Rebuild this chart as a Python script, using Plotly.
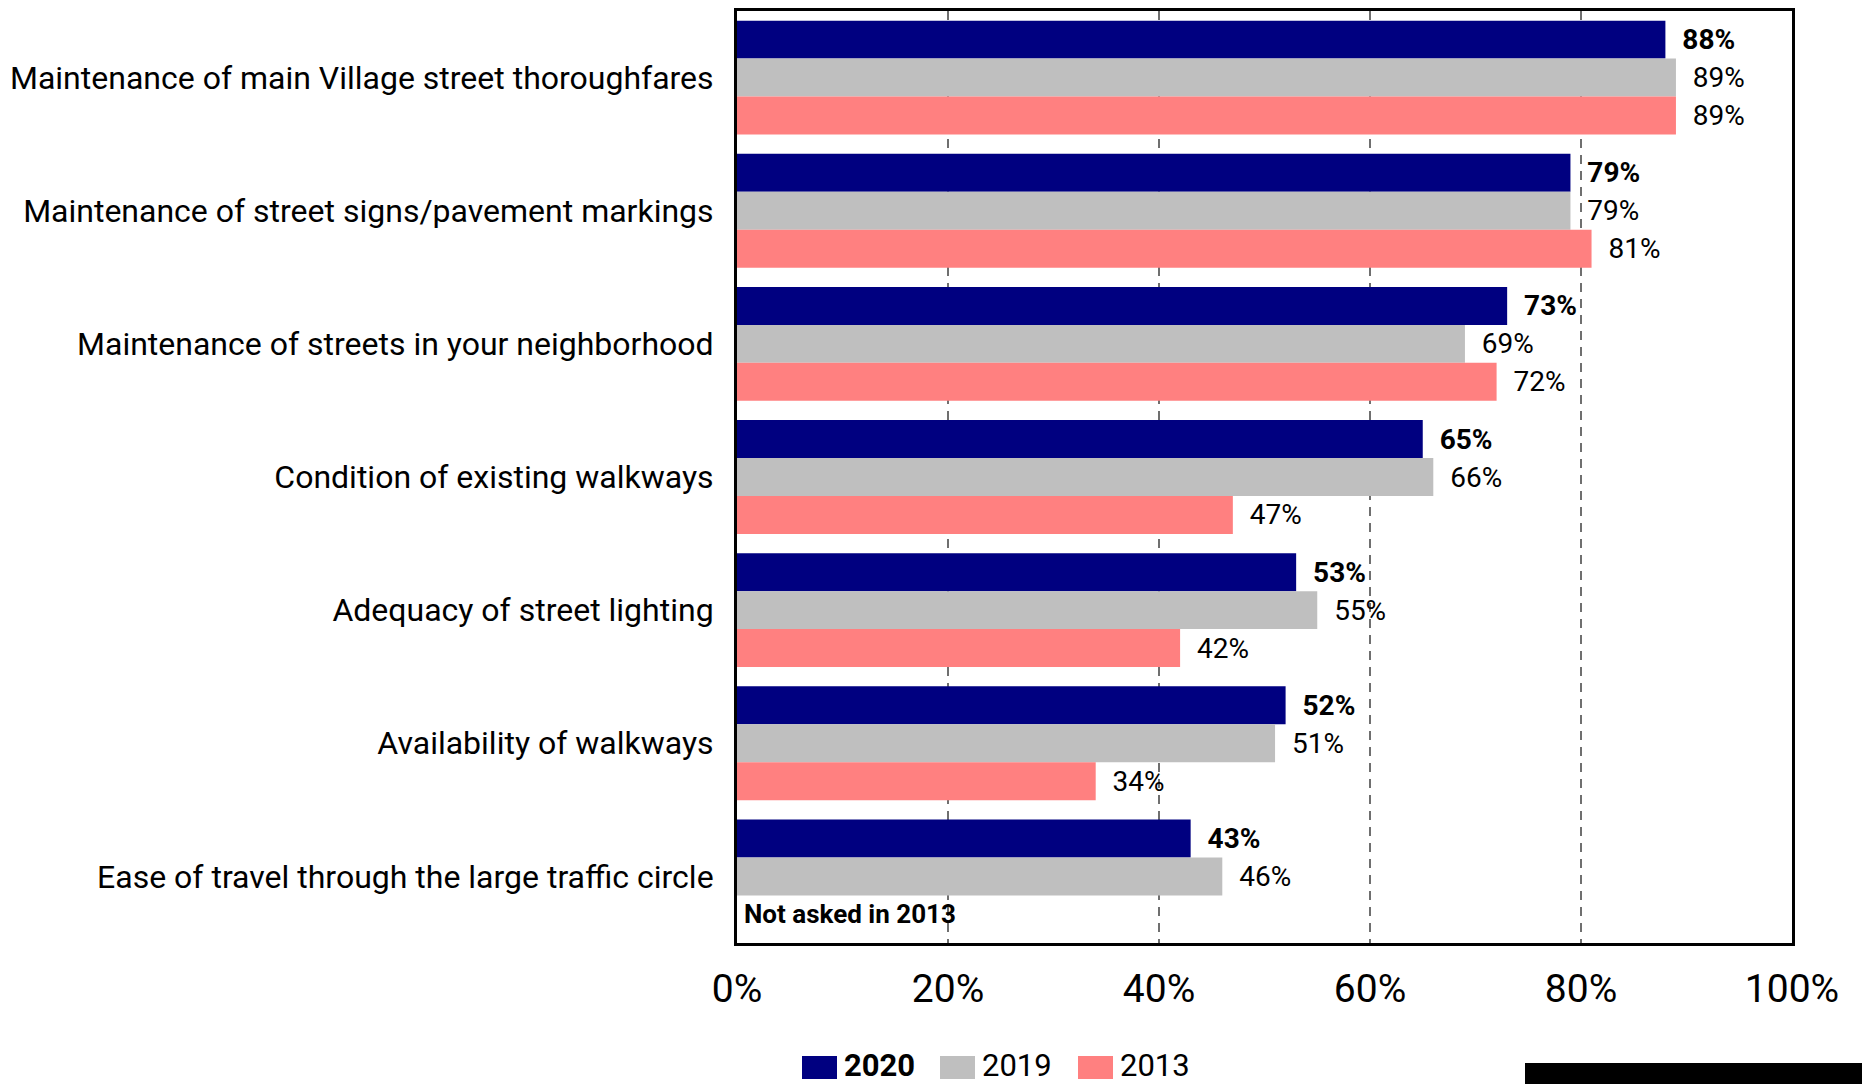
import plotly.graph_objects as go

# Survey items, listed top to bottom
categories = [
    "Maintenance of main Village street thoroughfares",
    "Maintenance of street signs/pavement markings",
    "Maintenance of streets in your neighborhood",
    "Condition of existing walkways",
    "Adequacy of street lighting",
    "Availability of walkways",
    "Ease of travel through the large traffic circle",
]

# Percent satisfied by survey year
values_2020 = [88, 79, 73, 65, 53, 52, 43]
values_2019 = [89, 79, 69, 66, 55, 51, 46]
values_2013 = [89, 81, 72, 47, 42, 34, None]

series_names = ["2020", "2019", "2013"]
x_tick_values = [0, 20, 40, 60, 80, 100]
x_tick_labels = ["0%", "20%", "40%", "60%", "80%", "100%"]
note_text = "Not asked in 2013"

colors = ["#000080", "#BFBFBF", "#FF8080"]
FONT = "Roboto"

W, H = 1862, 1084
M_L, M_R, M_T, M_B = 737, 70, 11, 141
PW = W - M_L - M_R
PH = H - M_T - M_B


def px_x(px):
    return (px - M_L) / PW


def px_y(py):
    return (H - M_B - py) / PH


fig = go.Figure()
for name, vals, col in zip(series_names, [values_2020, values_2019, values_2013], colors):
    bold = name == "2020"
    fig.add_trace(go.Bar(
        y=categories,
        x=vals,
        name=name,
        orientation="h",
        marker=dict(color=col, line=dict(width=0)),
        text=[None if v is None else f"&nbsp;&nbsp;{v}%" for v in vals],
        textposition="outside",
        cliponaxis=False,
        textfont=dict(family=FONT, size=28, color="#000000",
                      weight="bold" if bold else "normal"),
        showlegend=False,
        hoverinfo="skip",
    ))

# Note placed where the missing 2013 bar would sit
fig.add_annotation(
    x=0, y=len(categories) - 1 + 0.285, xref="x", yref="y",
    text=f"<b>{note_text}</b>", showarrow=False,
    xanchor="left", yanchor="middle", xshift=5,
    font=dict(family=FONT, size=26, color="#000000"),
)

# Legend row with wide colour swatches
legend_items = [
    (802, 837, 842),
    (940, 975, 980),
    (1078, 1113, 1118),
]
shapes = []
for (sx0, sx1, tx), name, col in zip(legend_items, series_names, colors):
    shapes.append(dict(
        type="rect", xref="paper", yref="paper",
        x0=px_x(sx0), x1=px_x(sx1), y0=px_y(1079), y1=px_y(1056),
        fillcolor=col, line=dict(width=0),
    ))
    label = f"<b>{name}</b>" if name == "2020" else name
    fig.add_annotation(
        x=px_x(tx), y=px_y(1065), xref="paper", yref="paper",
        text=label, showarrow=False, xanchor="left", yanchor="middle",
        font=dict(family=FONT, size=31, color="#000000"),
    )

# Black strip in the lower right corner
shapes.append(dict(
    type="rect", xref="paper", yref="paper",
    x0=px_x(1525), x1=px_x(1870), y0=px_y(1063), y1=px_y(1090),
    fillcolor="#000000", line=dict(width=0),
))

fig.update_layout(
    width=W, height=H,
    margin=dict(l=M_L, r=M_R, t=M_T, b=M_B, autoexpand=False),
    barmode="group",
    bargap=0.145,
    bargroupgap=0,
    plot_bgcolor="#FFFFFF",
    paper_bgcolor="#FFFFFF",
    shapes=shapes,
    font=dict(family=FONT, color="#000000"),
)

fig.update_xaxes(
    range=[0, 100],
    tickvals=x_tick_values,
    ticktext=x_tick_labels,
    tickfont=dict(family=FONT, size=39, color="#000000"),
    ticks="",
    ticklabelstandoff=9,
    showgrid=True,
    gridcolor="#6F6F6F",
    gridwidth=1.5,
    griddash="9px,7px",
    zeroline=False,
    showline=True,
    linecolor="#000000",
    linewidth=3,
    mirror=True,
)

fig.update_yaxes(
    autorange="reversed",
    tickfont=dict(family=FONT, size=32, color="#000000"),
    ticks="",
    ticklabelstandoff=14,
    showgrid=False,
    showline=True,
    linecolor="#000000",
    linewidth=3,
    mirror=True,
)

fig.write_html("out.html")
